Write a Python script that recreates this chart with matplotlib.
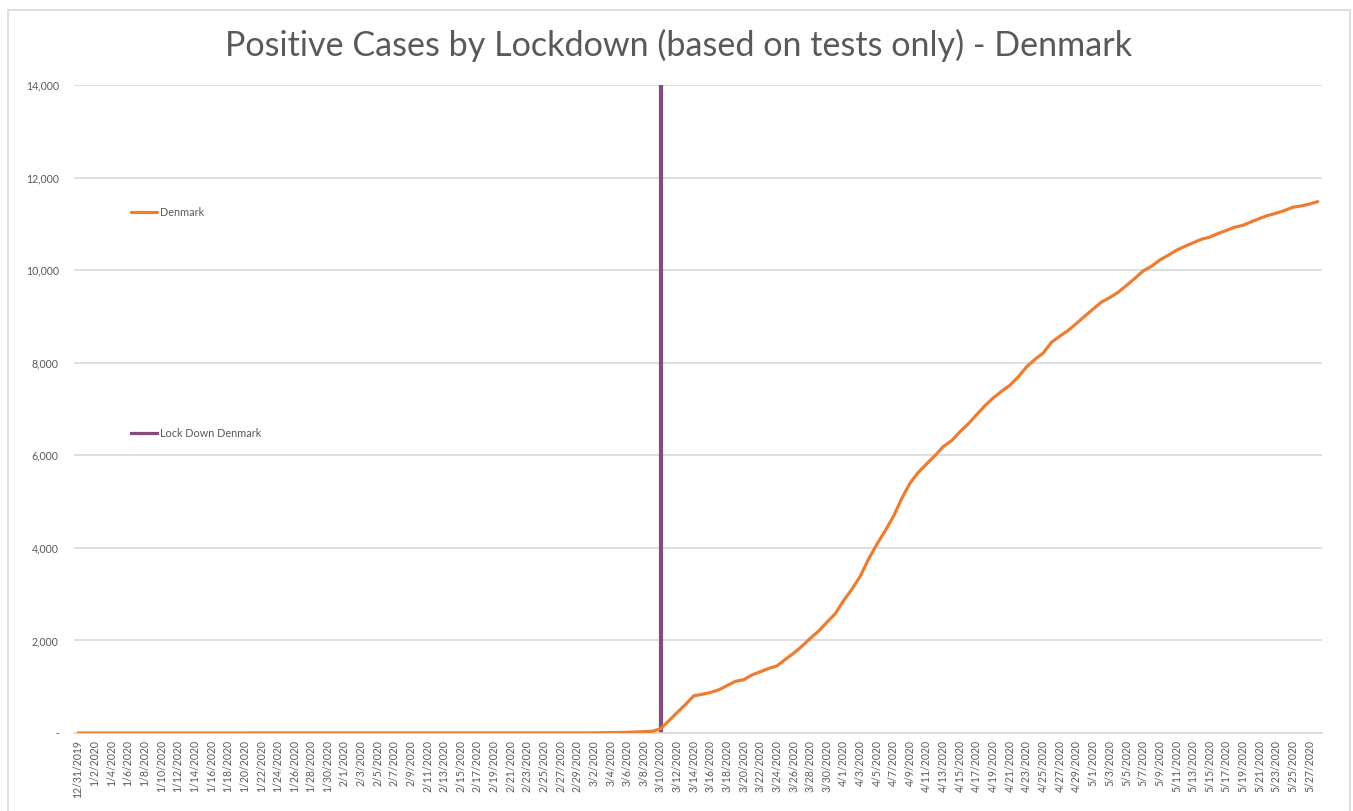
import pandas as pd
import matplotlib.pyplot as plt
from matplotlib.patches import Rectangle
from matplotlib.lines import Line2D

plt.rcParams['font.family'] = ['Lato', 'DejaVu Sans']

# daily cumulative positive cases, 12/31/2019 .. 5/28/2020
dates = pd.date_range("2019-12-31", "2020-05-28", freq="D")
early_zeros = [0] * 59  # 12/31/2019 .. 2/27/2020
march_on = [1, 1, 1, 3, 4, 6, 10, 15, 23, 31, 37, 92, 264, 444, 617, 804, 836,
            875, 933, 1024, 1115, 1151, 1255, 1326, 1395, 1450, 1591, 1724,
            1877, 2046, 2201, 2395, 2577, 2860, 3107, 3386, 3757, 4077, 4369,
            4681, 5071, 5402, 5635, 5819, 5996, 6191, 6318, 6511, 6681, 6879,
            7073, 7242, 7384, 7515, 7695, 7912, 8073, 8210, 8445, 8575, 8698,
            8851, 9008, 9158, 9311, 9407, 9523, 9670, 9821, 9983, 10083, 10218,
            10319, 10429, 10513, 10591, 10667, 10713, 10791, 10858, 10927, 10968,
            11044, 11117, 11182, 11230, 11289, 11360, 11387, 11428, 11480]
denmark = early_zeros + march_on
lockdown_date = "2020-03-10"
y_ticks = [0, 2000, 4000, 6000, 8000, 10000, 12000, 14000]

orange = "#ED7D31"
purple = "#864A7F"
grey_txt = "#595959"
grid_col = "#D9D9D9"

fig = plt.figure(figsize=(13.53, 8.11), dpi=100)
ax = fig.add_axes([74 / 1353, 1 - 733 / 811, (1322 - 74) / 1353, (733 - 85) / 811])

x = list(range(len(dates)))
lock_idx = list(dates).index(pd.Timestamp(lockdown_date))

ln_dk, = ax.plot(x, denmark, color=orange, lw=2.3, solid_capstyle="round", zorder=3)
ax.vlines(lock_idx, 0, y_ticks[-1], color=purple, lw=3, zorder=2)

ax.set_xlim(-0.5, len(dates) - 0.5)
ax.set_ylim(0, y_ticks[-1])
ax.set_yticks(y_ticks)
ax.set_yticklabels(["-" if v == 0 else f"{v:,}" for v in y_ticks])
ax.yaxis.grid(True, color=grid_col, lw=1.2)
ax.set_axisbelow(True)

tick_pos = x[::2]
ax.set_xticks(tick_pos)
ax.set_xticklabels([f"{dates[i].month}/{dates[i].day}/{dates[i].year}" for i in tick_pos],
                   rotation=90)

for s in ["top", "right", "left"]:
    ax.spines[s].set_visible(False)
ax.spines["bottom"].set_color(grid_col)
ax.spines["bottom"].set_linewidth(1.2)
ax.tick_params(axis="both", length=0, colors=grey_txt, labelsize=7.6)
ax.tick_params(axis="y", pad=11)
ax.tick_params(axis="x", pad=5)

leg_kw = dict(loc="center left", frameon=False, fontsize=7.8, handlelength=2.4,
              handletextpad=0.2, borderpad=0, borderaxespad=0, labelcolor=grey_txt)
leg1 = ax.legend([ln_dk], ["Denmark"], bbox_to_anchor=(0.046, (733 - 212) / 648), **leg_kw)
ax.add_artist(leg1)
ax.legend([Line2D([], [], color=purple, lw=2.3)], ["Lock Down Denmark"],
          bbox_to_anchor=(0.046, (733 - 433) / 648), **leg_kw)

fig.text(679 / 1353, 1 - 45 / 811, "Positive Cases by Lockdown (based on tests only) - Denmark",
         ha="center", va="center", fontsize=24.6, color=grey_txt)

fig.patches.append(Rectangle((8 / 1353, -0.01), (1350 - 8) / 1353, 1 - 10 / 811 + 0.01,
                             transform=fig.transFigure, fill=False, ec=grid_col, lw=1.2))

fig.savefig("out.png", dpi=100)
